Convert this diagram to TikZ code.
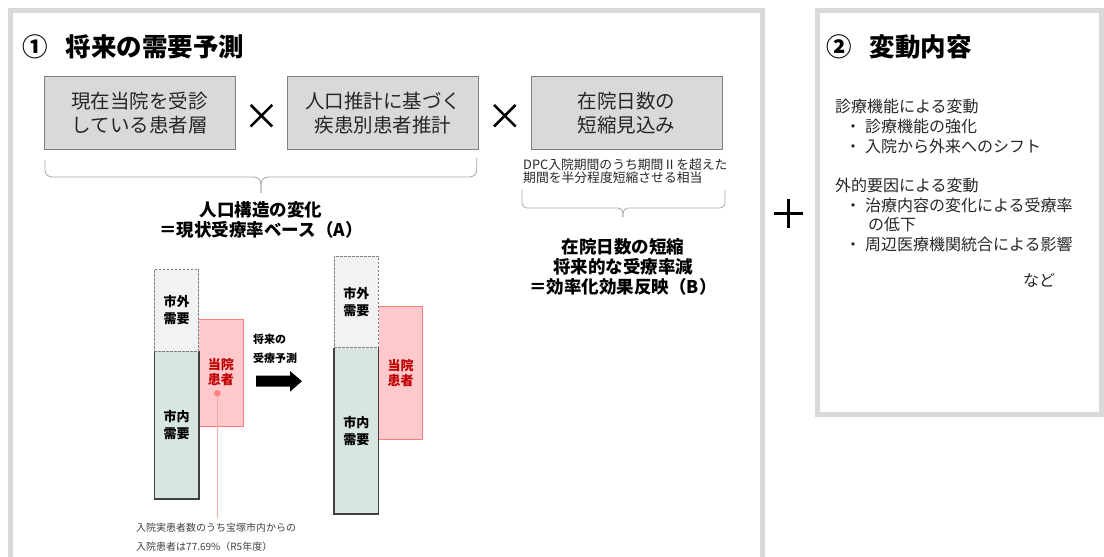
\documentclass[tikz,border=0pt]{standalone}
\usepackage{fontspec}
\setmainfont{Noto Sans CJK JP}
\usetikzlibrary{positioning, calc, shapes.misc}

\definecolor{panelgray}{HTML}{D9D9D9}
\definecolor{boxfill}{HTML}{D9D9D9}
\definecolor{boxline}{HTML}{7F7F7F}
\definecolor{inkc}{HTML}{262626}
\definecolor{bracegray}{HTML}{A6A6A6}
\definecolor{outfill}{HTML}{F2F2F2}
\definecolor{infill}{HTML}{D7E6E3}
\definecolor{ptfill}{HTML}{FFC9CC}
\definecolor{ptline}{HTML}{FF7F7F}
\definecolor{ptred}{HTML}{C00000}
\definecolor{notegray}{HTML}{404040}

\begin{document}
\begin{tikzpicture}[
  x=1pt, y=-1pt,
  panel/.style={draw=panelgray, line width=5pt},
  title/.style={anchor=west, inner sep=0pt, font=\bfseries\fontsize{25.5}{28}\selectfont},
  box/.style={rectangle, draw=boxline, fill=boxfill, minimum width=191pt, minimum height=73pt, align=center, text=inkc, font=\fontsize{19.5}{24}\selectfont},
  timesmark/.style={cross out, draw=black, line width=2.6pt, minimum size=19pt, inner sep=0pt},
  plusmark/.style={cross out, draw=black, line width=2.3pt, minimum size=17.7pt, inner sep=0pt, rotate=45},
  brc/.style={draw=bracegray, line width=0.8pt},
  caption/.style={align=center, inner sep=0pt, font=\bfseries\fontsize{17.5}{20}\selectfont},
  smallnote/.style={align=left, inner sep=0pt, text=inkc, font=\fontsize{12.8}{12.8}\selectfont},
  bar/.style={rectangle, inner sep=0pt, outer sep=0pt, minimum width=44.5pt, align=center, font=\bfseries\fontsize{13}{16.5}\selectfont},
  outbar/.style={bar, fill=outfill, draw=boxline, line width=0.8pt, dash pattern=on 2.5pt off 1.5pt},
  inbar/.style={bar, fill=infill},
  inline/.style={draw=notegray, line width=1.3pt},
  ptbar/.style={bar, fill=ptfill, draw=ptline, line width=0.9pt, text=ptred, font=\bfseries\fontsize{13}{15}\selectfont},
  listtext/.style={align=left, inner sep=0pt, text=inkc, font=\fontsize{16}{19.7}\selectfont},
  node distance=52pt
]
\clip (0,0) rectangle (1104,557);

% panels
\draw[panel] (10.5,10.5) rectangle (762.5,640);
\draw[panel] (817.5,10.5) rectangle (1101.5,414.5);

\node[title] (ttlDemand) at (22,47) {①\hspace{18pt}将来の需要予測};
\node[title] (ttlChange) at (826,47) {②\hspace{18pt}変動内容};

% factor boxes
\node[box] (curPt) at (139.7,112.7) {現在当院を受診\\している患者層};
\node[box, right=of curPt] (popEst) {人口推計に基づく\\疾患別患者推計};
\node[box, right=of popEst] (stayCut) {在院日数の\\短縮見込み};
\node[timesmark, yshift=-3pt] (times1) at ($(curPt.east)!0.5!(popEst.west)$) {};
\node[timesmark, yshift=-3pt] (times2) at ($(popEst.east)!0.5!(stayCut.west)$) {};

\node[smallnote, anchor=west] (dpcNote) at (523,171) {DPC入院期間のうち期間Ⅱを超えた\\期間を半分程度短縮させる相当};

% braces
\coordinate (braceAl) at (45,160);
\coordinate (braceAr) at (476.7,158);
\coordinate (braceAt) at (261,193);
\draw[brc, rounded corners=7pt] (braceAl) |- ($(braceAt)+(0,-16)$) -- (braceAt);
\draw[brc, rounded corners=7pt] (braceAr) |- ($(braceAt)+(0,-16)$) -- (braceAt);
\coordinate (braceBl) at (522,190);
\coordinate (braceBr) at (725,190);
\coordinate (braceBt) at (623,217);
\draw[brc, rounded corners=5pt] (braceBl) |- ($(braceBt)+(0,-9)$) -- (braceBt);
\draw[brc, rounded corners=5pt] (braceBr) |- ($(braceBt)+(0,-9)$) -- (braceBt);

\node[caption] (capA) at (261,220) {人口構造の変化\\＝現状受療率ベース（A）};
\node[caption] (capB) at (623,267) {在院日数の短縮\\将来的な受療率減\\＝効率化効果反映（B）};

\node[plusmark] (plus) at (788.5,213.5) {};

% current demand bars
\node[ptbar, minimum height=107pt] (ptL) at (220.85,372.5) {当院\\患者};
\node[inbar, minimum height=148pt] (inL) at (176.6,425) {市内\\需要};
\draw[inline] (inL.north west) -- (inL.south west) -- (inL.south east) -- (inL.north east);
\node[outbar, minimum height=82pt, above=0pt of inL] (outL) {市外\\需要};

\node[circle, fill=ptline, inner sep=0pt, minimum size=6.5pt] (ptDot) at (217.3,393.3) {};
\coordinate (noteTop) at (217.3,518);
\draw[draw=ptline!70, line width=0.8pt] (ptDot) -- (noteTop);
\node[align=left, inner sep=0pt, text=notegray, font=\fontsize{10}{19}\selectfont, anchor=west] (ptNote) at (136,537.5) {入院実患者数のうち宝塚市内からの\\入院患者は77.69\%（R5年度）};

% forecast arrow
\node[align=left, inner sep=0pt, anchor=west, font=\bfseries\fontsize{11}{19}\selectfont] (fcLbl) at (253,348.5) {将来の\\受療予測};
\coordinate (fcArrow) at (256,381.2);
\fill (fcArrow) ++(0,-5.5) -- ++(34,0) -- ++(0,-4.7) -- ++(12,10.2) -- ++(-12,10.5) -- ++(0,-5) -- ++(-34,0) -- cycle;

% future demand bars
\node[ptbar, minimum height=133.3pt] (ptR) at (400.5,372.7) {当院\\患者};
\node[inbar, minimum height=166.3pt] (inR) at (356.3,430.9) {市内\\需要};
\draw[inline] (inR.north west) -- (inR.south west) -- (inR.south east) -- (inR.north east);
\node[outbar, minimum height=91.7pt, above=0pt of inR] (outR) {市外\\需要};

% change factors
\node[listtext, anchor=north west] (factors) at (835,99) {診療機能による変動\\
\hspace*{10pt}・\hspace{4pt}診療機能の強化\\
\hspace*{10pt}・\hspace{4pt}入院から外来へのシフト\\[19.7pt]
外的要因による変動\\
\hspace*{10pt}・\hspace{4pt}治療内容の変化による受療率\\
\hspace*{33pt}の低下\\
\hspace*{10pt}・\hspace{4pt}周辺医療機関統合による影響};
\node[listtext, anchor=west] (etc) at (1023,280) {など};
\end{tikzpicture}
\end{document}
